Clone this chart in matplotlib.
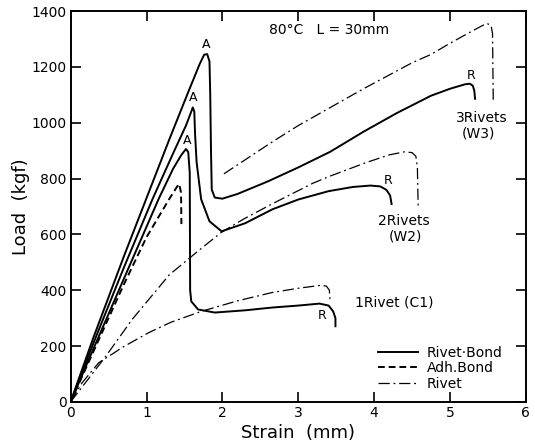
import matplotlib
matplotlib.use("Agg")
import matplotlib.pyplot as plt
from matplotlib.lines import Line2D

# ---- data (strain mm, load kgf) ----
# rivet + bond
rb3_x = [0, 0.3, 0.7, 1.0, 1.3, 1.55, 1.7, 1.76, 1.80, 1.83, 1.84, 1.85, 1.86, 1.9, 2.0, 2.2,
         2.6, 3.0, 3.42, 3.86, 4.3, 4.75, 5.0, 5.2, 5.26, 5.30, 5.32, 5.33]
rb3_y = [0, 230, 520, 730, 940, 1110, 1210, 1244, 1246, 1220, 1100, 900, 760, 732, 728, 745,
         790, 840, 896, 968, 1035, 1097, 1122, 1138, 1140, 1133, 1115, 1086]
rb2_x = [0, 0.3, 0.7, 1.08, 1.35, 1.52, 1.59, 1.61, 1.63, 1.64, 1.66, 1.72, 1.83, 1.99, 2.3,
         2.66, 3.0, 3.4, 3.72, 3.95, 4.08, 4.16, 4.21, 4.23]
rb2_y = [0, 210, 480, 727, 890, 990, 1040, 1055, 1040, 960, 860, 726, 647, 611, 640,
         690, 725, 755, 770, 775, 772, 760, 740, 709]
rb1_x = [0, 0.3, 0.7, 1.16, 1.35, 1.46, 1.52, 1.55, 1.57, 1.575, 1.59, 1.68, 1.90, 2.3, 2.66,
         3.0, 3.28, 3.40, 3.46, 3.49, 3.49]
rb1_y = [0, 190, 440, 727, 835, 885, 906, 895, 820, 400, 360, 331, 320, 328, 338,
         345, 352, 345, 324, 300, 271]
# adhesive bond only
adh_x = [0, 0.3, 0.7, 1.0, 1.3, 1.40, 1.43, 1.455, 1.46]
adh_y = [0, 180, 420, 590, 727, 770, 781, 750, 637]
# rivet only
rv1_x = [0, 0.15, 0.37, 0.7, 1.03, 1.32, 1.72, 2.2, 2.66, 3.0, 3.28, 3.37, 3.41, 3.42]
rv1_y = [0, 68, 140, 198, 248, 285, 324, 362, 392, 407, 417, 415, 400, 356]
rv2_x = [0, 0.46, 0.81, 1.3, 1.7, 1.99, 2.28, 2.66, 3.19, 3.41, 3.9, 4.2, 4.40, 4.50, 4.55,
         4.57, 4.58]
rv2_y = [0, 162, 295, 455, 545, 608, 655, 710, 783, 808, 858, 885, 896, 893, 880,
         840, 701]
rv3_x = [2.02, 2.66, 3.0, 3.86, 4.5, 4.75, 5.0, 5.3, 5.48, 5.54, 5.56, 5.57]
rv3_y = [817, 932, 990, 1122, 1215, 1245, 1285, 1330, 1356, 1350, 1320, 1076]

peak_A = [(1.79, 1282), (1.62, 1090), (1.54, 936)]
peak_R = [(5.28, 1168), (4.18, 794), (3.31, 309)]

FS = 10
DASHDOT = (0, (9, 3, 1.5, 3))

fig = plt.figure(figsize=(5.35, 4.46), dpi=100)
ax = fig.add_axes([0.132, 0.099, 0.851, 0.876])

for xs, ys in [(rb3_x, rb3_y), (rb2_x, rb2_y), (rb1_x, rb1_y)]:
    ax.plot(xs, ys, color="black", lw=1.4, solid_joinstyle="round")
ax.plot(adh_x, adh_y, color="black", lw=1.4, ls=(0, (3.5, 2)))
for xs, ys in [(rv1_x, rv1_y), (rv2_x, rv2_y), (rv3_x, rv3_y)]:
    ax.plot(xs, ys, color="black", lw=0.9, ls=DASHDOT)

for x, y in peak_A:
    ax.text(x, y, "A", ha="center", va="center", fontsize=9)
for x, y in peak_R:
    ax.text(x, y, "R", ha="center", va="center", fontsize=9)

ax.text(2.62, 1332, "80°C   L = 30mm", ha="left", va="center", fontsize=FS)
ax.text(5.42, 1018, "3Rivets", ha="center", va="center", fontsize=FS)
ax.text(5.37, 962, "(W3)", ha="center", va="center", fontsize=FS)
ax.text(4.39, 648, "2Rivets", ha="center", va="center", fontsize=FS)
ax.text(4.41, 594, "(W2)", ha="center", va="center", fontsize=FS)
ax.text(4.27, 356, "1Rivet (C1)", ha="center", va="center", fontsize=FS)

handles = [Line2D([], [], color="black", lw=1.4),
           Line2D([], [], color="black", lw=1.4, ls=(0, (3.5, 2))),
           Line2D([], [], color="black", lw=0.9, ls=DASHDOT)]
ax.legend(handles, ["Rivet·Bond", "Adh.Bond", "Rivet"], loc="lower left",
          bbox_to_anchor=(0.651, 0.0), frameon=False, fontsize=FS,
          handlelength=2.9, handletextpad=0.6, labelspacing=0.1, borderpad=0.3)

ax.set_xlim(0, 6)
ax.set_ylim(0, 1400)
ax.set_xticks(range(0, 7))
ax.set_yticks(range(0, 1401, 200))
ax.tick_params(direction="in", length=7, width=1.2, labelsize=FS, pad=3,
               top=True, right=True)
for s in ax.spines.values():
    s.set_linewidth(1.4)
ax.set_xlabel("Strain  (mm)", fontsize=13, labelpad=3)
ax.set_ylabel("Load  (kgf)", fontsize=13, labelpad=1)

fig.savefig("out.png", dpi=100)
